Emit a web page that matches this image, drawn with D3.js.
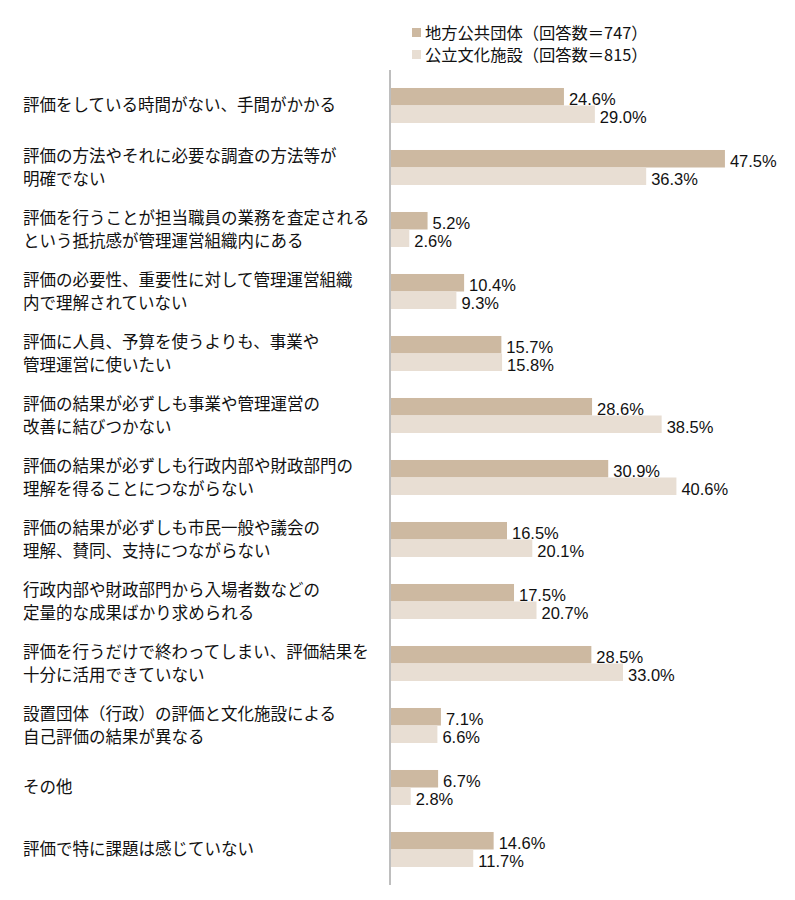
<!DOCTYPE html>
<html>
<head>
<meta charset="utf-8">
<script src="https://cdn.jsdelivr.net/npm/d3@7"></script>
<style>
  body { margin: 0; background: #fff; }
  svg { display: block; }
</style>
</head>
<body>
<svg id="chart-area"></svg>
<script>
// categories (line breaks as in the original)
const categories = [
  ["評価をしている時間がない、手間がかかる"],
  ["評価の方法やそれに必要な調査の方法等が", "明確でない"],
  ["評価を行うことが担当職員の業務を査定される", "という抵抗感が管理運営組織内にある"],
  ["評価の必要性、重要性に対して管理運営組織", "内で理解されていない"],
  ["評価に人員、予算を使うよりも、事業や", "管理運営に使いたい"],
  ["評価の結果が必ずしも事業や管理運営の", "改善に結びつかない"],
  ["評価の結果が必ずしも行政内部や財政部門の", "理解を得ることにつながらない"],
  ["評価の結果が必ずしも市民一般や議会の", "理解、賛同、支持につながらない"],
  ["行政内部や財政部門から入場者数などの", "定量的な成果ばかり求められる"],
  ["評価を行うだけで終わってしまい、評価結果を", "十分に活用できていない"],
  ["設置団体（行政）の評価と文化施設による", "自己評価の結果が異なる"],
  ["その他"],
  ["評価で特に課題は感じていない"]
]
const seriesNames = ["地方公共団体（回答数＝747）", "公立文化施設（回答数＝815）"]
const localGov = [24.6, 47.5, 5.2, 10.4, 15.7, 28.6, 30.9, 16.5, 17.5, 28.5, 7.1, 6.7, 14.6]
const facilities = [29.0, 36.3, 2.6, 9.3, 15.8, 38.5, 40.6, 20.1, 20.7, 33.0, 6.6, 2.8, 11.7]
const colors = ["#cdb9a1", "#e8ded3"]

const width = 795
const height = 900

const svg = d3.select("#chart-area")
  .attr("width", width)
  .attr("height", height)

const rows = categories.map((c, i) => ({ id: i, lines: c, values: [localGov[i], facilities[i]] }))

const x = d3.scaleLinear().domain([0, 50]).range([391, 742.5])
const y = d3.scaleBand()
  .domain(rows.map(d => d.id))
  .range([74.5, 74.5 + 13 * 62])
  .paddingInner(0.435)
  .paddingOuter(0.2175)
const ySub = d3.scaleBand().domain([0, 1]).range([0, y.bandwidth()])

const jp = "'Noto Sans CJK JP', 'Noto Sans', sans-serif"

// legend
const legend = svg.append("g")
legend.selectAll("rect")
  .data(seriesNames)
  .enter().append("rect")
  .attr("x", 412)
  .attr("y", (d, i) => 28 + i * 22)
  .attr("width", 9)
  .attr("height", 9)
  .attr("fill", (d, i) => colors[i])
legend.selectAll("text")
  .data(seriesNames)
  .enter().append("text")
  .attr("x", 425)
  .attr("y", (d, i) => 33 + i * 22)
  .attr("dy", "0.36em")
  .attr("font-family", jp)
  .attr("font-size", 16.3)
  .attr("fill", "#111")
  .text(d => d)

// groups
const group = svg.selectAll(".group")
  .data(rows)
  .enter().append("g")
  .attr("class", "group")
  .attr("transform", d => `translate(0,${y(d.id)})`)

group.selectAll("rect")
  .data(d => d.values)
  .enter().append("rect")
  .attr("x", x(0))
  .attr("y", (d, i) => ySub(i))
  .attr("width", d => x(d) - x(0))
  .attr("height", ySub.bandwidth())
  .attr("fill", (d, i) => colors[i])

group.selectAll(".val")
  .data(d => d.values)
  .enter().append("text")
  .attr("class", "val")
  .attr("x", d => x(d) + 5)
  .attr("y", (d, i) => ySub(i) + ySub.bandwidth() - 0.5)
  .attr("font-family", "'Liberation Sans', Arial, sans-serif")
  .attr("font-size", 16.5)
  .attr("fill", "#111")
  .text(d => d.toFixed(1) + "%")

// category labels
group.append("text")
  .attr("font-family", jp)
  .attr("font-size", 16.5)
  .attr("fill", "#111")
  .selectAll("tspan")
  .data(d => d.lines.map((t, i) => ({ t, i, n: d.lines.length })))
  .enter().append("tspan")
  .attr("x", 23)
  .attr("y", d => y.bandwidth() / 2 + (d.i - (d.n - 1) / 2) * 23.5)
  .attr("dy", "0.36em")
  .text(d => d.t)

// axis line
svg.append("line")
  .attr("x1", x(0) - 1).attr("x2", x(0) - 1)
  .attr("y1", 70).attr("y2", 885)
  .attr("stroke", "#a9a9a9")
  .attr("stroke-width", 1.5)
</script>
</body>
</html>
